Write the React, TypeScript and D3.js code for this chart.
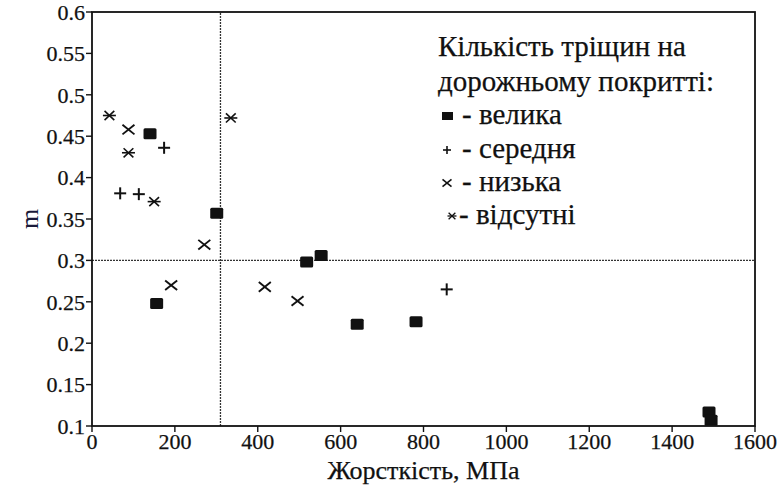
import React from "react";
import * as d3 from "d3";

const W = 781;
const H = 492;

// Data: [stiffness MPa, m]
const bigCracks: [number, number][] = [
  [140, 0.453], [301, 0.357], [156, 0.248], [518, 0.298], [553, 0.306],
  [640, 0.223], [782, 0.226], [1489, 0.117], [1494, 0.107],
];
const mediumCracks: [number, number][] = [
  [174, 0.436], [68, 0.381], [113, 0.380], [856, 0.265],
];
const lowCracks: [number, number][] = [
  [88, 0.458], [271, 0.319], [191, 0.270], [417, 0.268], [496, 0.251],
];
const noCracks: [number, number][] = [
  [42, 0.475], [88, 0.430], [150, 0.371], [335, 0.472],
];
const xTicks = [0, 200, 400, 600, 800, 1000, 1200, 1400, 1600];
const yTicks = [0.1, 0.15, 0.2, 0.25, 0.3, 0.35, 0.4, 0.45, 0.5, 0.55, 0.6];
const refX = 310;
const refY = 0.3;
const legendTitle = ["Кількість тріщин на", "дорожньому покритті:"];
const legendItems = ["- велика", "- середня", "- низька", "- відсутні"];

const margin = { left: 92, right: W - 755, top: 12, bottom: H - 426 };

const FONT = "'Liberation Serif', 'DejaVu Serif', 'Times New Roman', serif";
const tStyle = { fontFamily: FONT };

function Square({ x, y }: { x: number; y: number }) {
  return <rect x={x - 6.5} y={y - 5.5} width={13} height={11} rx={1.5} fill="#111" />;
}
function Plus({ x, y, s = 6, w = 2 }: { x: number; y: number; s?: number; w?: number }) {
  return (
    <g stroke="#111" strokeWidth={w}>
      <line x1={x - s} x2={x + s} y1={y} y2={y} />
      <line x1={x} x2={x} y1={y - s} y2={y + s} />
    </g>
  );
}
function Cross({ x, y, s = 6, w = 1.9 }: { x: number; y: number; s?: number; w?: number }) {
  return (
    <g stroke="#111" strokeWidth={w}>
      <line x1={x - s} x2={x + s} y1={y - s * 0.8} y2={y + s * 0.8} />
      <line x1={x - s} x2={x + s} y1={y + s * 0.8} y2={y - s * 0.8} />
    </g>
  );
}
function Star({ x, y, s = 6.5, w = 1.6 }: { x: number; y: number; s?: number; w?: number }) {
  return (
    <g stroke="#111" strokeWidth={w}>
      <line x1={x - s} x2={x + s} y1={y} y2={y} />
      <line x1={x - s * 0.75} x2={x + s * 0.75} y1={y - s * 0.7} y2={y + s * 0.7} />
      <line x1={x - s * 0.75} x2={x + s * 0.75} y1={y + s * 0.7} y2={y - s * 0.7} />
    </g>
  );
}

export default function App() {
  const x = d3.scaleLinear().domain([0, 1600]).range([margin.left, W - margin.right]);
  const y = d3.scaleLinear().domain([0.1, 0.6]).range([H - margin.bottom, margin.top]);
  const fmtY = (v: number) => String(+v.toFixed(2));
  const x0 = x(0), x1 = x(1600), y0 = y(0.1), y1 = y(0.6);

  const legX = 438;
  const legBase = [56, 91, 124, 158, 191, 224];
  const txt = { fill: "#111", stroke: "#111", strokeWidth: 0.25, style: tStyle };

  return (
    <svg
      width={W}
      height={H}
      style={{ position: "absolute", left: 0, top: 0, background: "#fff" }}
    >
      <rect width={W} height={H} fill="#fff" />
      {/* reference lines */}
      <line x1={x0} x2={x1} y1={y(refY)} y2={y(refY)} stroke="#333" strokeWidth={1.3} strokeDasharray="2,1" />
      <line x1={x(refX)} x2={x(refX)} y1={y0} y2={y1} stroke="#333" strokeWidth={1.3} strokeDasharray="2,1" />
      {/* frame */}
      <rect x={x0} y={y1} width={x1 - x0} height={y0 - y1} fill="none" stroke="#111" strokeWidth={1.8} />
      {/* y ticks */}
      {yTicks.map((t) => (
        <g key={t}>
          <line x1={x0 - 6} x2={x0} y1={y(t)} y2={y(t)} stroke="#111" strokeWidth={1.4} />
          <text x={x0 - 7} y={y(t)} dy="0.35em" textAnchor="end" fontSize={22} {...txt}>
            {fmtY(t)}
          </text>
        </g>
      ))}
      {/* x ticks */}
      {xTicks.map((t) => (
        <g key={t}>
          <line x1={x(t)} x2={x(t)} y1={y0} y2={y0 + 6} stroke="#111" strokeWidth={1.4} />
          <text x={x(t)} y={y0 + 23} textAnchor="middle" fontSize={22} {...txt}>
            {t}
          </text>
        </g>
      ))}
      {/* axis titles */}
      <text x={(x0 + x1) / 2} y={479} textAnchor="middle" fontSize={26} {...txt}>
        Жорсткість, МПа
      </text>
      <text
        transform={`translate(38, ${y(0.35)}) rotate(-90)`}
        textAnchor="middle"
        fontSize={26}
        fill="#1a1a3a"
        style={tStyle}
      >
        m
      </text>
      {/* points */}
      {bigCracks.map((d, i) => <Square key={"b" + i} x={x(d[0])} y={y(d[1])} />)}
      {mediumCracks.map((d, i) => <Plus key={"m" + i} x={x(d[0])} y={y(d[1])} />)}
      {lowCracks.map((d, i) => <Cross key={"l" + i} x={x(d[0])} y={y(d[1])} />)}
      {noCracks.map((d, i) => <Star key={"n" + i} x={x(d[0])} y={y(d[1])} />)}
      {/* legend */}
      {legendTitle.map((t, i) => (
        <text key={t} x={legX} y={legBase[i]} fontSize={29} {...txt}>
          {t}
        </text>
      ))}
      <rect x={442} y={legBase[2] - 12} width={11} height={8} fill="#111" />
      <Plus x={447} y={legBase[3] - 8} s={4} w={1.6} />
      <Cross x={447} y={legBase[4] - 8} s={4.5} w={1.6} />
      <Star x={452} y={legBase[5] - 8} s={4.5} w={1.3} />
      {legendItems.map((t, i) => (
        <text key={t} x={i === 3 ? 459 : 462} y={legBase[2 + i]} fontSize={29} {...txt}>
          {t}
        </text>
      ))}
    </svg>
  );
}
